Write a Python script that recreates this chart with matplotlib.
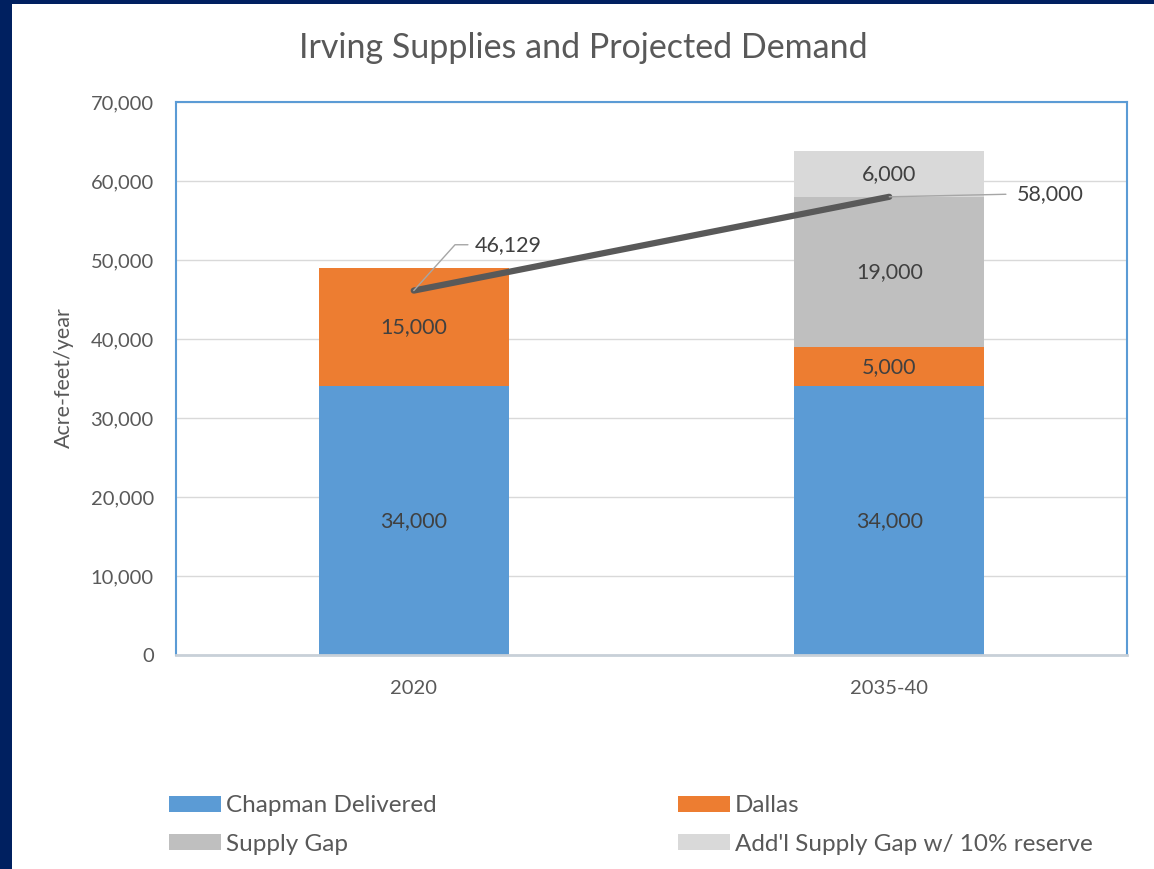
import numpy as np
import matplotlib.pyplot as plt
from matplotlib.patches import Rectangle
from matplotlib.ticker import FuncFormatter

# data
categories = ['2020', '2035-40']
chapman = [34000, 34000]
dallas = [15000, 5000]
supply_gap = [0, 19000]
addl_gap = [0, 5800]
demand = [46129, 58000]
yticks = [0, 10000, 20000, 30000, 40000, 50000, 60000, 70000]

series_names = ['Chapman Delivered', 'Dallas', 'Supply Gap', "Add'l Supply Gap w/ 10% reserve"]
series_vals = [chapman, dallas, supply_gap, addl_gap]
series_colors = ['#5B9BD5', '#ED7D31', '#BFBFBF', '#D9D9D9']

plt.rcParams['font.family'] = ['Lato', 'DejaVu Sans']
txt = '#595959'

W, H = 1154, 869
fig = plt.figure(figsize=(W / 100, H / 100), dpi=100)
fig.patch.set_facecolor('#002060')
# white card inside the navy frame
fig.add_artist(Rectangle((12 / W, 0), 1, 1 - 4 / H, transform=fig.transFigure,
                         facecolor='white', edgecolor='none', zorder=-1))

ax = fig.add_subplot(111)
fig.subplots_adjust(left=176 / W, right=1127 / W, bottom=1 - 655 / H, top=1 - 102 / H)

x = np.arange(len(categories))
bottom = np.zeros(len(categories))
handles = []
for name, vals, col in zip(series_names, series_vals, series_colors):
    vals = np.array(vals, dtype=float)
    b = ax.bar(x, vals, width=0.4, bottom=bottom, color=col, label=name, zorder=2)
    handles.append(b)
    for i, v in enumerate(vals):
        if v > 0:
            ax.text(x[i], bottom[i] + v / 2, f'{round(v, -3):,.0f}', ha='center', va='center',
                    fontsize=15.5, color='#404040', zorder=4)
    bottom += vals

# demand line
ax.plot(x, demand, color='#595959', lw=4.5, solid_capstyle='round', zorder=3)
ax.annotate(f'{demand[0]:,}', xy=(x[0], demand[0]), xytext=(44, 33), textcoords='offset points',
            ha='left', va='center', fontsize=15.5, color='#404040', zorder=5,
            arrowprops=dict(arrowstyle='-', color='#A6A6A6', lw=1, relpos=(0, 0.5),
                            connectionstyle='angle,angleA=0,angleB=48,rad=0', shrinkA=3, shrinkB=0))
ax.annotate(f'{demand[1]:,}', xy=(x[1], demand[1]), xytext=(92, 2), textcoords='offset points',
            ha='left', va='center', fontsize=15.5, color='#404040', zorder=5,
            arrowprops=dict(arrowstyle='-', color='#A6A6A6', lw=1, relpos=(0, 0.5),
                            shrinkA=6, shrinkB=0))

ax.set_xlim(-0.5, 1.5)
ax.set_ylim(0, 70000)
ax.set_yticks(yticks)
ax.yaxis.set_major_formatter(FuncFormatter(lambda v, p: f'{v:,.0f}'))
ax.set_xticks(x, categories)
ax.tick_params(axis='both', length=0, labelsize=14.5, labelcolor=txt)
ax.tick_params(axis='y', pad=16)
ax.tick_params(axis='x', pad=18)
ax.grid(axis='y', color='#D9D9D9', lw=1)
ax.set_axisbelow(True)
for s in ['left', 'top', 'right']:
    ax.spines[s].set_color('#5B9BD5')
    ax.spines[s].set_linewidth(1.5)
ax.spines['bottom'].set_color('#C8D0D8')
ax.spines['bottom'].set_linewidth(2)

fig.text(583 / W, 1 - 48 / H, 'Irving Supplies and Projected Demand', ha='center', va='center',
         fontsize=24.5, color=txt)
fig.text(64 / W, 1 - 378 / H, 'Acre-feet/year', rotation=90, ha='center', va='center',
         fontsize=15.5, color=txt)

# legend in two columns, placed separately
leg_kw = dict(loc='center left', frameon=False, fontsize=17.5, handlelength=2.14,
              handleheight=0.62, handletextpad=0.2, labelspacing=0.72,
              borderpad=0, borderaxespad=0, labelcolor=txt)
fig.legend([handles[0], handles[2]], [series_names[0], series_names[2]],
           bbox_to_anchor=(169 / W, 1 - 825 / H), **leg_kw)
fig.legend([handles[1], handles[3]], [series_names[1], series_names[3]],
           bbox_to_anchor=(678 / W, 1 - 825 / H), **leg_kw)

fig.savefig('out.png', dpi=100, facecolor=fig.get_facecolor())
